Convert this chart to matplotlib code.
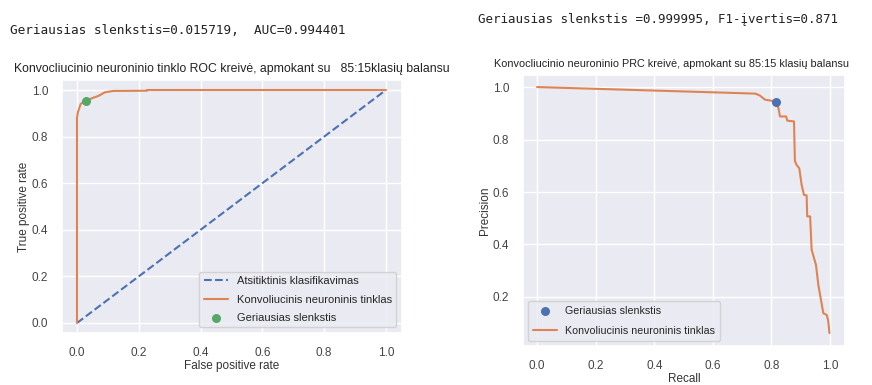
import numpy as np
import matplotlib.pyplot as plt
import seaborn as sns

sns.set_theme(style="darkgrid")
plt.rcParams['font.family'] = ['Liberation Sans', 'DejaVu Sans']

# ROC curve
fpr = [0.0, 0.0, 0.003, 0.008, 0.012, 0.02, 0.028, 0.04, 0.053, 0.07, 0.09, 0.117, 0.227, 0.227, 1.0]
tpr = [0.0, 0.88, 0.905, 0.925, 0.94, 0.948, 0.954, 0.96, 0.967, 0.975, 0.99, 0.996, 0.997, 1.0, 1.0]
best_fpr, best_tpr = 0.028, 0.954

# PR curve
recall = [0.0, 0.3, 0.6, 0.745, 0.76, 0.778, 0.80, 0.816, 0.824, 0.829, 0.85, 0.854, 0.877,
          0.880, 0.886, 0.895, 0.903, 0.911, 0.920, 0.922, 0.932, 0.937, 0.945, 0.952,
          0.960, 0.968, 0.977, 0.989, 0.994, 0.998]
precision = [1.0, 0.99, 0.98, 0.975, 0.968, 0.952, 0.948, 0.942, 0.919, 0.888, 0.888, 0.872, 0.869,
             0.718, 0.703, 0.690, 0.627, 0.589, 0.587, 0.507, 0.507, 0.381, 0.349, 0.322,
             0.246, 0.195, 0.138, 0.131, 0.106, 0.062]
best_rec, best_prec = 0.816, 0.942

fig = plt.figure(figsize=(8.72, 3.85), dpi=100)
fs = 8.5

fig.text(10 / 872, 1 - 30 / 385, "Geriausias slenkstis=0.015719,  AUC=0.994401",
         family='DejaVu Sans Mono', fontsize=9.2, va='center', color='#222222')
fig.text(478 / 872, 1 - 20 / 385, "Geriausias slenkstis =0.999995, F1-įvertis=0.871",
         family='DejaVu Sans Mono', fontsize=9, va='center', color='#222222')

# left: ROC
ax1 = fig.add_axes([62 / 872, 1 - 333 / 385, 340 / 872, 253 / 385])
ax1.plot([0, 1], [0, 1], linestyle='--', color='#4c72b0', label='Atsitiktinis klasifikavimas')
ax1.plot(fpr, tpr, color='#dd8452', label='Konvoliucinis neuroninis tinklas')
ax1.scatter([best_fpr], [best_tpr], color='#55a868', s=30, zorder=3, label='Geriausias slenkstis')
ax1.set_xlim(-0.0485, 1.052)
ax1.set_ylim(-0.043, 1.043)
ax1.set_title("Konvocliucinio neuroninio tinklo ROC kreivė, apmokant su   85:15klasių balansu",
              fontsize=8.8, pad=6, color='#222222')
ax1.set_xlabel("False positive rate", fontsize=fs, labelpad=1, color='#333333')
ax1.set_ylabel("True positive rate", fontsize=fs, labelpad=1, color='#333333')
ax1.tick_params(labelsize=fs, pad=4, colors='#444444')
ax1.legend(loc='lower right', fontsize=8, borderpad=0.4, labelspacing=0.75, handlelength=2.2)

# right: PR
ax2 = fig.add_axes([523 / 872, 1 - 346 / 385, 322 / 872, 271 / 385])
ax2.scatter([best_rec], [best_prec], color='#4c72b0', s=30, zorder=3, label='Geriausias slenkstis')
ax2.plot(recall, precision, color='#dd8452', label='Konvoliucinis neuroninis tinklas')
ax2.set_xlim(-0.048, 1.051)
ax2.set_ylim(0.013, 1.046)
ax2.set_yticks([0.2, 0.4, 0.6, 0.8, 1.0])
ax2.set_title("Konvocliucinio neuroninio PRC kreivė, apmokant su 85:15 klasių balansu",
              fontsize=7.8, pad=6, color='#222222', x=0.46)
ax2.set_xlabel("Recall", fontsize=fs, labelpad=1, color='#333333')
ax2.set_ylabel("Precision", fontsize=fs, labelpad=1, color='#333333')
ax2.tick_params(labelsize=fs, pad=4, colors='#444444')
ax2.legend(loc='lower left', fontsize=7.7, borderpad=0.45, labelspacing=0.95, handlelength=2.2)

fig.savefig('out.png', dpi=100)
